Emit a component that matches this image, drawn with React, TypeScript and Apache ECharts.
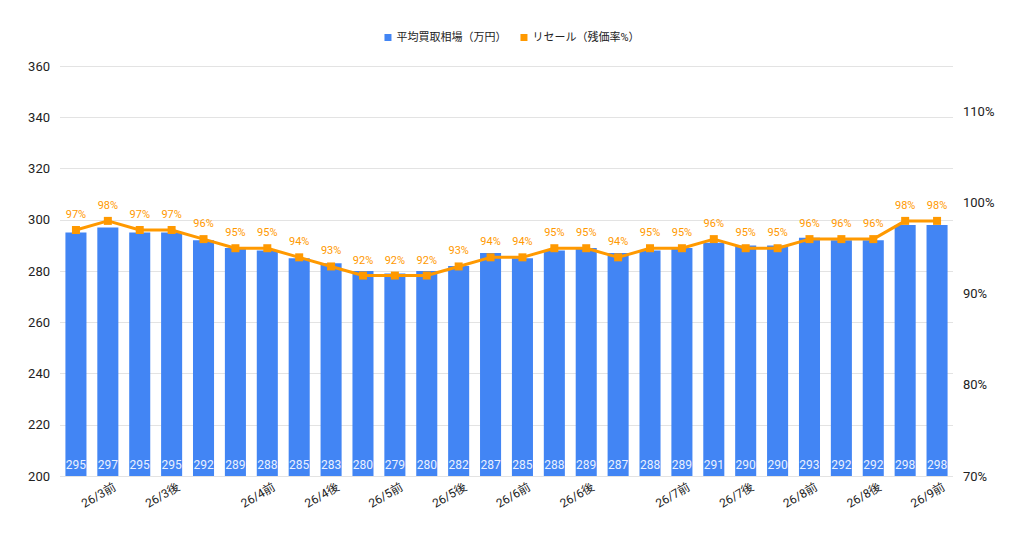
import * as echarts from 'echarts'
import React, { useEffect, useRef } from 'react'

// 横軸のカテゴリ（表示されていない位置は空文字）
const categories = [
  '', '26/3前', '', '26/3後', '', '', '26/4前', '', '26/4後', '',
  '26/5前', '', '26/5後', '', '26/6前', '', '26/6後', '', '', '26/7前',
  '', '26/7後', '', '26/8前', '', '26/8後', '', '26/9前'
]

// 平均買取相場（万円）
const priceValues = [
  295, 297, 295, 295, 292, 289, 288, 285, 283, 280,
  279, 280, 282, 287, 285, 288, 289, 287, 288, 289,
  291, 290, 290, 293, 292, 292, 298, 298
]

// リセール（残価率%）
const resaleValues = [
  97, 98, 97, 97, 96, 95, 95, 94, 93, 92,
  92, 92, 93, 94, 94, 95, 95, 94, 95, 95,
  96, 95, 95, 96, 96, 96, 98, 98
]

const BLUE = '#4285F4'
const ORANGE = '#FF9900'
const FONT = "Roboto, 'Noto Sans CJK JP', sans-serif"

const App: React.FC = () => {
  const chartRef = useRef<HTMLDivElement>(null)

  useEffect(() => {
    const chart = echarts.init(chartRef.current!, undefined, { renderer: 'svg' })
    chart.setOption({
      animation: false,
      textStyle: { fontFamily: FONT },
      legend: {
        top: 27,
        left: 'center',
        icon: 'rect',
        itemWidth: 7,
        itemHeight: 7,
        itemGap: 14,
        textStyle: { fontSize: 11, color: '#222', fontFamily: FONT },
        data: ['平均買取相場（万円）', 'リセール（残価率%）']
      },
      grid: { left: 60, right: 71, top: 66, bottom: 58 },
      xAxis: {
        type: 'category',
        data: categories,
        axisLine: { show: false },
        axisTick: { show: false },
        axisLabel: {
          interval: 0,
          rotate: 30,
          fontSize: 12,
          color: '#222',
          margin: 14,
          padding: [0, -8, 0, 0],
          fontFamily: FONT
        }
      },
      yAxis: [
        {
          type: 'value',
          min: 200,
          max: 360,
          interval: 20,
          axisLine: { show: false },
          axisTick: { show: false },
          axisLabel: { fontSize: 13, color: '#222', margin: 10, fontFamily: FONT },
          splitLine: { lineStyle: { color: '#e3e3e3', width: 1 } }
        },
        {
          type: 'value',
          min: 70,
          max: 115,
          interval: 10,
          axisLine: { show: false },
          axisTick: { show: false },
          splitLine: { show: false },
          axisLabel: {
            fontSize: 13,
            color: '#222',
            margin: 10,
            fontFamily: FONT,
            formatter: (v: number) => (v % 10 === 0 ? v + '%' : '')
          }
        }
      ],
      series: [
        {
          name: '平均買取相場（万円）',
          type: 'bar',
          data: priceValues,
          barWidth: '66%',
          itemStyle: { color: BLUE },
          label: {
            show: true,
            position: 'insideBottom',
            distance: 5,
            color: '#eaf1ff',
            fontSize: 12,
            fontFamily: FONT
          }
        },
        {
          name: 'リセール（残価率%）',
          type: 'line',
          yAxisIndex: 1,
          data: resaleValues,
          symbol: 'rect',
          symbolSize: 8,
          lineStyle: { color: ORANGE, width: 3 },
          itemStyle: { color: ORANGE },
          label: {
            show: true,
            position: 'top',
            distance: 6,
            color: ORANGE,
            fontSize: 11,
            fontFamily: FONT,
            formatter: '{c}%'
          }
        }
      ]
    })
    return () => {
      chart.dispose()
    }
  }, [])

  return (
    <div
      ref={chartRef}
      style={{ position: 'absolute', left: 0, top: 0, width: 1024, height: 534, background: '#fff' }}
    />
  )
}

export default App
